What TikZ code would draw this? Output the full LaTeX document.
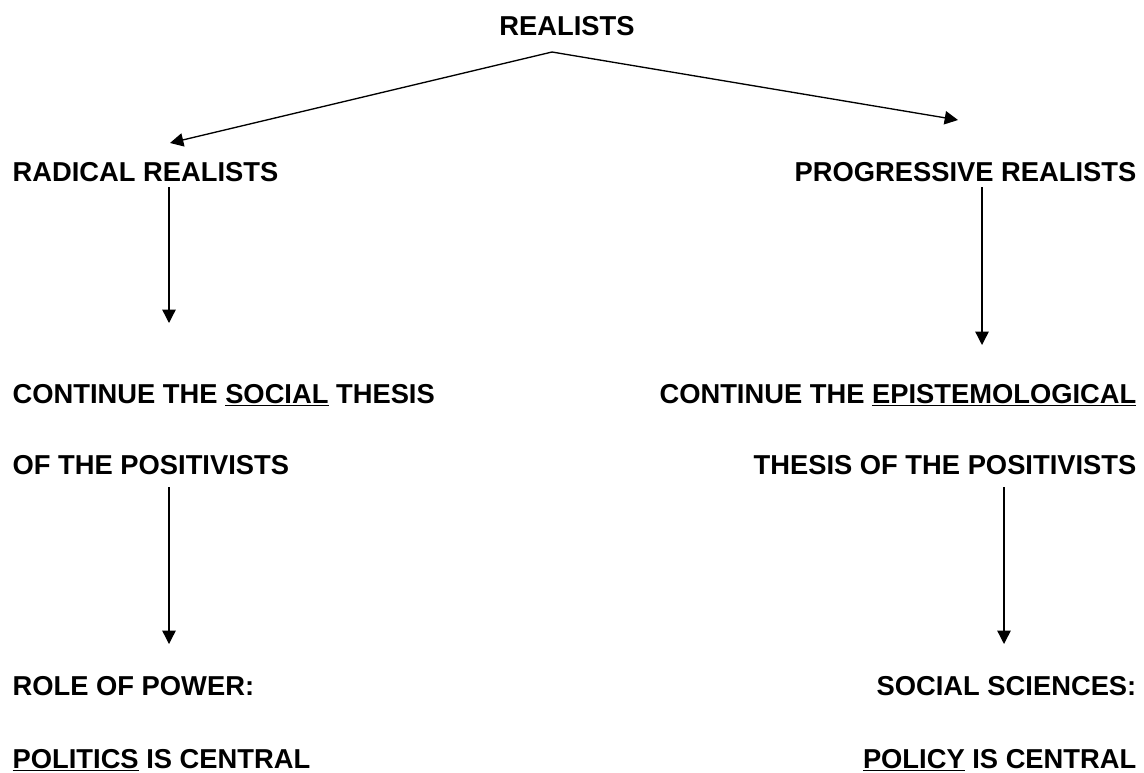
\documentclass[tikz,border=0pt]{standalone}
\usepackage{fontspec}
\setmainfont{Liberation Sans}
\usepackage{tikz}
\usetikzlibrary{arrows.meta}
\newcommand{\ulword}[1]{\setbox0\hbox{#1}\rlap{\rule[-2.6pt]{\wd0}{1.4pt}}#1}
\begin{document}
\begin{tikzpicture}[x=0.75pt, y=-0.75pt, line width=1pt, >={Triangle[length=10pt,width=10pt]},
 lbl/.style={font=\fontsize{20.5}{24}\selectfont\bfseries, inner sep=0pt}]
 \useasboundingbox (0,0) rectangle (1144,772);
 % Top
 \node[lbl, anchor=base] (realists) at (567,35) {REALISTS};
 \coordinate (apex) at (552,52);
 \coordinate (tipL) at (170,143);
 \coordinate (tipR) at (958,120);
 \draw[->] (apex) -- (tipL);
 \draw[->] (apex) -- (tipR);
 % Left branch
 \node[lbl, anchor=base west] (radical) at (12,181) {RADICAL REALISTS};
 \node[lbl, anchor=base west] (socialA) at (12,403) {CONTINUE THE \ulword{SOCIAL} THESIS};
 \node[lbl, anchor=base west] (socialB) at (12,474) {OF THE POSITIVISTS};
 \node[lbl, anchor=base west] (powerA) at (12,695) {ROLE OF POWER:};
 \node[lbl, anchor=base west] (powerB) at (12,768) {\ulword{POLITICS} IS CENTRAL};
 \coordinate (la) at (169,187);
 \coordinate (lb) at (169,323);
 \coordinate (lc) at (169,487);
 \coordinate (ld) at (169,644);
 \draw[->] (la) -- (lb);
 \draw[->] (lc) -- (ld);
 % Right branch
 \node[lbl, anchor=base east] (progressive) at (1137,181) {PROGRESSIVE REALISTS};
 \node[lbl, anchor=base east] (epistA) at (1137,403) {CONTINUE THE \ulword{EPISTEMOLOGICAL}};
 \node[lbl, anchor=base east] (epistB) at (1137,474) {THESIS OF THE POSITIVISTS};
 \node[lbl, anchor=base east] (scienceA) at (1137,695) {SOCIAL SCIENCES:};
 \node[lbl, anchor=base east] (scienceB) at (1137,768) {\ulword{POLICY} IS CENTRAL};
 \coordinate (ra) at (982,187);
 \coordinate (rb) at (982,345);
 \coordinate (rc) at (1004,487);
 \coordinate (rd) at (1004,644);
 \draw[->] (ra) -- (rb);
 \draw[->] (rc) -- (rd);
\end{tikzpicture}
\end{document}
